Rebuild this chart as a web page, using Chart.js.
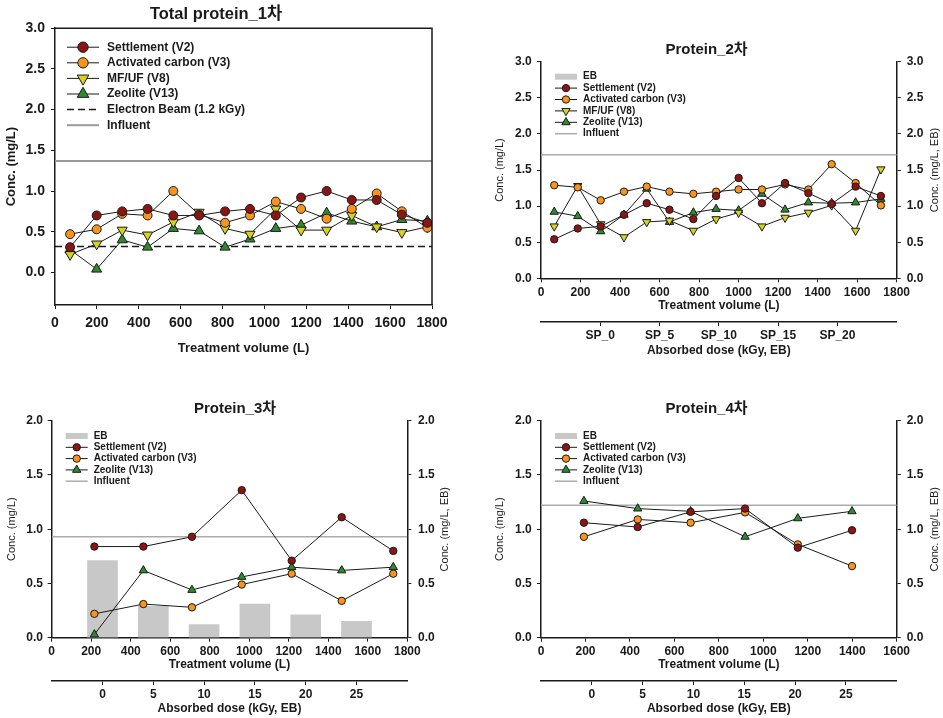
<!DOCTYPE html>
<html>
<head>
<meta charset="utf-8">
<script src="https://cdn.jsdelivr.net/npm/chart.js@4.4.0/dist/chart.umd.min.js"></script>
<style>
  body { margin: 0; background: #fff; width: 943px; height: 718px; position: relative; overflow: hidden; }
  canvas { position: absolute; }
</style>
</head>
<body>
<canvas id="c1" width="470" height="365" style="left:0;top:0"></canvas>
<canvas id="c2" width="473" height="345" style="left:470px;top:30px"></canvas>
<canvas id="c3" width="470" height="328" style="left:0;top:390px"></canvas>
<canvas id="c4" width="473" height="328" style="left:470px;top:390px"></canvas>
<script>
// ---- data ----
// run 1
const vol1 = [72, 199, 321, 442, 565, 688, 812, 931, 1054, 1175, 1297, 1417, 1536, 1656, 1778];
const settle1 = [0.31, 0.70, 0.75, 0.78, 0.70, 0.70, 0.75, 0.78, 0.70, 0.92, 1.00, 0.89, 0.89, 0.71, 0.61];
const carbon1 = [0.47, 0.53, 0.72, 0.70, 1.00, 0.71, 0.61, 0.70, 0.87, 0.78, 0.66, 0.78, 0.97, 0.75, 0.55];
const mfuf1 = [0.22, 0.35, 0.52, 0.46, 0.62, 0.74, 0.54, 0.47, 0.78, 0.52, 0.52, 0.70, 0.56, 0.49, 0.56];
const zeo1 = [0.28, 0.04, 0.40, 0.31, 0.54, 0.51, 0.31, 0.41, 0.54, 0.58, 0.73, 0.63, 0.56, 0.65, 0.63];
const beam1 = 0.32;
const influent1 = 1.37;

// run 2
const vol2 = [67, 186, 302, 420, 535, 650, 771, 886, 1000, 1118, 1235, 1353, 1471, 1592, 1720];
const settle2 = [0.54, 0.69, 0.72, 0.88, 1.04, 0.95, 0.82, 1.14, 1.39, 1.04, 1.32, 1.18, 1.03, 1.27, 1.14];
const carbon2 = [1.29, 1.26, 1.08, 1.20, 1.27, 1.20, 1.17, 1.20, 1.23, 1.23, 1.30, 1.23, 1.58, 1.32, 1.01];
const mfuf2 = [0.72, 1.28, 0.75, 0.57, 0.78, 0.80, 0.66, 0.82, 0.91, 0.72, 0.84, 0.91, 1.01, 0.66, 1.51];
const zeo2 = [0.92, 0.86, 0.65, 0.88, 1.24, 0.78, 0.91, 0.96, 0.94, 1.17, 0.95, 1.05, 1.04, 1.05, 1.10];
const influent2 = 1.71;
const spLabels = ['SP_0', 'SP_5', 'SP_10', 'SP_15', 'SP_20'];

// run 3
const vol3 = [216, 464, 710, 962, 1215, 1468, 1729];
const settle3 = [0.84, 0.84, 0.93, 1.36, 0.71, 1.11, 0.80];
const carbon3 = [0.22, 0.31, 0.28, 0.49, 0.59, 0.34, 0.59];
const zeo3 = [0.03, 0.62, 0.44, 0.56, 0.65, 0.62, 0.65];
const dose3 = [0, 5, 10, 15, 20, 25];
const eb3 = [0.71, 0.29, 0.12, 0.31, 0.21, 0.15];
const influent3 = 0.93;

// run 4
const vol4 = [193, 435, 673, 918, 1155, 1399];
const settle4 = [1.06, 1.02, 1.16, 1.19, 0.83, 0.99];
const carbon4 = [0.93, 1.09, 1.06, 1.155, 0.86, 0.66];
const zeo4 = [1.26, 1.19, 1.165, 0.93, 1.10, 1.165];
const influent4 = 1.22;

// ---- look ----
const FONT = "'Liberation Sans', Arial, 'Noto Sans CJK KR', sans-serif";
const INK = '#1a1a1a';

const LOOK = {
  settle: { label: 'Settlement (V2)', color: '#8b1414', shape: 'circle', rot: 0 },
  carbon: { label: 'Activated carbon (V3)', color: '#f7941e', shape: 'circle', rot: 0 },
  mfuf: { label: 'MF/UF (V8)', color: '#d6d221', shape: 'triangle', rot: 180 },
  zeo: { label: 'Zeolite (V13)', color: '#2d8a2d', shape: 'triangle', rot: 0 }
};

function series(key, xs, ys, r) {
  const k = LOOK[key];
  return {
    label: k.label,
    data: xs.map((x, i) => ({ x: x, y: ys[i] })),
    borderColor: INK,
    borderWidth: 1,
    pointStyle: k.shape,
    pointRotation: k.rot,
    pointRadius: k.shape === 'circle' ? r : r * 1.3,
    pointBackgroundColor: k.color,
    pointBorderColor: INK,
    pointBorderWidth: 1,
    xAxisID: 'x',
    yAxisID: 'y'
  };
}

// flat reference line across the whole volume axis
function level(label, value, xMax, color, width, dash) {
  return {
    label: label,
    data: [{ x: 0, y: value }, { x: xMax, y: value }],
    borderColor: color,
    borderWidth: width,
    borderDash: dash || [],
    pointRadius: 0,
    xAxisID: 'x',
    yAxisID: 'y'
  };
}

function ebBars(doses, vals) {
  return {
    type: 'bar',
    label: 'EB',
    data: doses.map((d, i) => ({ x: d, y: vals[i] })),
    backgroundColor: '#c8c8c8',
    barThickness: 30,
    grouped: false,
    order: 10,
    xAxisID: 'dose',
    yAxisID: 'y2'
  };
}

// legend drawn inside the plot, SigmaPlot style
const boxLegend = {
  id: 'boxLegend',
  afterDatasetsDraw(chart, args, o) {
    const { ctx, chartArea } = chart;
    ctx.save();
    ctx.font = 'bold ' + o.size + 'px ' + FONT;
    ctx.textBaseline = 'middle';
    chart.data.datasets.forEach((ds, i) => {
      const y = chartArea.top + o.top + i * o.row;
      const x0 = chartArea.left + o.left;
      const x1 = x0 + o.sample;
      if (ds.type === 'bar') {
        ctx.fillStyle = ds.backgroundColor;
        ctx.fillRect(x0, y - 3, o.sample, 6);
      } else {
        ctx.strokeStyle = ds.borderColor;
        ctx.lineWidth = ds.borderWidth;
        ctx.setLineDash(ds.borderDash || []);
        ctx.beginPath();
        ctx.moveTo(x0, y);
        ctx.lineTo(x1, y);
        ctx.stroke();
        ctx.setLineDash([]);
        if (ds.pointRadius > 0) {
          ctx.fillStyle = ds.pointBackgroundColor;
          ctx.strokeStyle = ds.pointBorderColor;
          ctx.lineWidth = ds.pointBorderWidth;
          Chart.helpers.drawPoint(ctx, {
            pointStyle: ds.pointStyle,
            rotation: ds.pointRotation,
            radius: ds.pointRadius * o.mark,
            borderWidth: ds.pointBorderWidth
          }, (x0 + x1) / 2, y);
        }
      }
      ctx.fillStyle = INK;
      ctx.fillText(ds.label, chartArea.left + o.text, y);
    });
    ctx.restore();
  }
};

// closed frame for run 1, rotated title for the right axis
const extras = {
  id: 'extras',
  afterDraw(chart, args, o) {
    const { ctx, chartArea: a } = chart;
    ctx.save();
    if (o.frame) {
      ctx.strokeStyle = INK;
      ctx.lineWidth = 1.5;
      ctx.beginPath();
      ctx.moveTo(a.left, a.top);
      ctx.lineTo(a.right, a.top);
      ctx.lineTo(a.right, a.bottom);
      ctx.stroke();
    }
    if (o.rightTitle) {
      ctx.translate(o.rightX, (a.top + a.bottom) / 2);
      ctx.rotate(-Math.PI / 2);
      ctx.font = '11px ' + FONT;
      ctx.fillStyle = INK;
      ctx.textAlign = 'center';
      ctx.textBaseline = 'middle';
      ctx.fillText(o.rightTitle, 0, 0);
    }
    ctx.restore();
  }
};

function bold(size) {
  return { family: FONT, size: size, weight: 'bold' };
}

function vAxis(pos, o) {
  return {
    type: 'linear',
    position: pos,
    offset: false,
    min: o.min,
    max: o.max,
    afterFit: s => { s.width = o.width; },
    afterBuildTicks: s => { s.ticks = s.ticks.filter(t => t.value >= -1e-9); },
    border: { display: true, color: INK, width: 1.5 },
    grid: { offset: false, drawOnChartArea: false, tickLength: 4, color: INK },
    ticks: { stepSize: 0.5, padding: o.pad, color: INK, font: bold(o.font), callback: v => v.toFixed(1) },
    title: o.title
      ? { display: true, text: o.title, color: INK, font: o.titleFont, padding: { top: o.titlePad, bottom: 0 } }
      : { display: false }
  };
}

function hAxis(o) {
  return {
    type: 'linear',
    position: 'bottom',
    offset: false,
    weight: o.weight || 0,
    min: o.min,
    max: o.max,
    afterFit: s => { s.height = o.height; },
    afterBuildTicks: s => { s.ticks = s.ticks.filter(t => t.value >= o.keepMin && t.value <= o.keepMax); },
    border: { display: true, color: INK, width: 1.5 },
    grid: { offset: false, drawOnChartArea: false, tickLength: 4, color: INK },
    ticks: { stepSize: o.step, autoSkip: false, maxRotation: 0, padding: o.pad, color: INK, font: bold(o.font), callback: o.fmt || (v => String(v)) },
    title: { display: true, text: o.title, color: INK, font: bold(o.titleSize), padding: { top: 0, bottom: o.titlePad } }
  };
}

function baseOptions(o) {
  return {
    responsive: false,
    animation: false,
    events: [],
    layout: { padding: { left: 0, right: o.padRight || 0, top: 0, bottom: 0 } },
    plugins: {
      legend: { display: false },
      tooltip: { enabled: false },
      title: {
        display: true, text: o.title, color: INK, font: bold(o.titleSize),
        padding: { top: o.titleTop, bottom: o.titleBottom }
      },
      boxLegend: o.legend,
      extras: o.extras
    },
    scales: o.scales
  };
}

// ---- run 1 ----
new Chart(document.getElementById('c1'), {
  type: 'line',
  data: {
    datasets: [
      series('settle', vol1, settle1, 4.5),
      series('carbon', vol1, carbon1, 4.5),
      series('mfuf', vol1, mfuf1, 4.5),
      series('zeo', vol1, zeo1, 4.5),
      level('Electron Beam (1.2 kGy)', beam1, 1800, INK, 1.5, [7, 4]),
      level('Influent', influent1, 1800, '#9a9a9a', 2)
    ]
  },
  options: baseOptions({
    title: 'Total protein_1차', titleSize: 16.5, titleTop: 5, titleBottom: 3.4,
    padRight: 38,
    legend: { left: 12, text: 52, top: 19, row: 15.6, size: 12, sample: 32, mark: 1.15 },
    extras: { frame: true },
    scales: {
      x: hAxis({ min: 0, max: 1800, step: 200, keepMin: 0, keepMax: 1800, height: 60, pad: 6, font: 14,
        title: 'Treatment volume (L)', titleSize: 13, titlePad: 9 }),
      y: vAxis('left', { min: -0.4, max: 3, width: 55, pad: 6, font: 14,
        title: 'Conc. (mg/L)', titleFont: bold(13), titlePad: 4 })
    }
  }),
  plugins: [boxLegend, extras]
});

// ---- runs 2-4 share the two-axis layout ----
function twoAxisScales(o) {
  return {
    x: hAxis({ min: 0, max: o.xMax, step: 200, keepMin: 0, keepMax: o.xMax, height: o.xH, pad: o.xPad, font: 12,
      title: 'Treatment volume (L)', titleSize: 12, titlePad: 8.8 }),
    dose: hAxis({ weight: 1, min: -5, max: o.doseMax, step: 5, keepMin: 0, keepMax: o.doseKeep,
      height: o.doseH, pad: 2.8, font: 12, fmt: o.doseFmt,
      title: 'Absorbed dose (kGy, EB)', titleSize: 12, titlePad: o.doseTitlePad }),
    y: vAxis('left', { min: 0, max: o.yMax, width: o.leftW, pad: o.leftPad, font: 12,
      title: 'Conc. (mg/L)', titleFont: { family: FONT, size: 11 }, titlePad: o.leftTitlePad }),
    y2: vAxis('right', { min: 0, max: o.yMax, width: o.rightW, pad: o.rightPad, font: 12 })
  };
}

const smallLegend = { left: 14, text: 42, top: 15.3, row: 11.3, size: 10, sample: 22, mark: 1 };

new Chart(document.getElementById('c2'), {
  type: 'line',
  data: {
    datasets: [
      ebBars([], []),
      series('settle', vol2, settle2, 3.7),
      series('carbon', vol2, carbon2, 3.7),
      series('mfuf', vol2, mfuf2, 3.7),
      series('zeo', vol2, zeo2, 3.7),
      level('Influent', influent2, 1800, '#ababab', 1.5)
    ]
  },
  options: baseOptions({
    title: 'Protein_2차', titleSize: 15, titleTop: 11, titleBottom: 2.7,
    legend: Object.assign({}, smallLegend, { top: 15, row: 11.4 }),
    extras: { rightTitle: 'Conc. (mg/L, EB)', rightX: 465 },
    scales: twoAxisScales({
      xMax: 1800, xH: 43.7, xPad: 2.8,
      doseMax: 25, doseKeep: 20, doseH: 53, doseTitlePad: 16.8, doseFmt: v => spLabels[v / 5],
      yMax: 3, leftW: 71, leftPad: 5.3, leftTitlePad: 23.4, rightW: 46.3, rightPad: 6
    })
  }),
  plugins: [boxLegend, extras]
});

new Chart(document.getElementById('c3'), {
  type: 'line',
  data: {
    datasets: [
      ebBars(dose3, eb3),
      series('settle', vol3, settle3, 3.7),
      series('carbon', vol3, carbon3, 3.7),
      series('zeo', vol3, zeo3, 3.7),
      level('Influent', influent3, 1800, '#ababab', 1.5)
    ]
  },
  options: baseOptions({
    title: 'Protein_3차', titleSize: 15, titleTop: 10, titleBottom: 2.7,
    legend: smallLegend,
    extras: { rightTitle: 'Conc. (mg/L, EB)', rightX: 445 },
    scales: twoAxisScales({
      xMax: 1800, xH: 43.3, xPad: 3.1,
      doseMax: 30, doseKeep: 25, doseH: 37, doseTitlePad: 1.8,
      yMax: 2, leftW: 51.7, leftPad: 4.7, leftTitlePad: 5.4, rightW: 62.7, rightPad: 6.7
    })
  }),
  plugins: [boxLegend, extras]
});

new Chart(document.getElementById('c4'), {
  type: 'line',
  data: {
    datasets: [
      ebBars([], []),
      series('settle', vol4, settle4, 3.7),
      series('carbon', vol4, carbon4, 3.7),
      series('zeo', vol4, zeo4, 3.7),
      level('Influent', influent4, 1600, '#ababab', 1.5)
    ]
  },
  options: baseOptions({
    title: 'Protein_4차', titleSize: 15, titleTop: 10, titleBottom: 2.7,
    legend: smallLegend,
    extras: { rightTitle: 'Conc. (mg/L, EB)', rightX: 465 },
    scales: twoAxisScales({
      xMax: 1600, xH: 43.3, xPad: 3.1,
      doseMax: 30, doseKeep: 25, doseH: 37, doseTitlePad: 1.8,
      yMax: 2, leftW: 71, leftPad: 5.3, leftTitlePad: 23.4, rightW: 46.3, rightPad: 6
    })
  }),
  plugins: [boxLegend, extras]
});
</script>
</body>
</html>
